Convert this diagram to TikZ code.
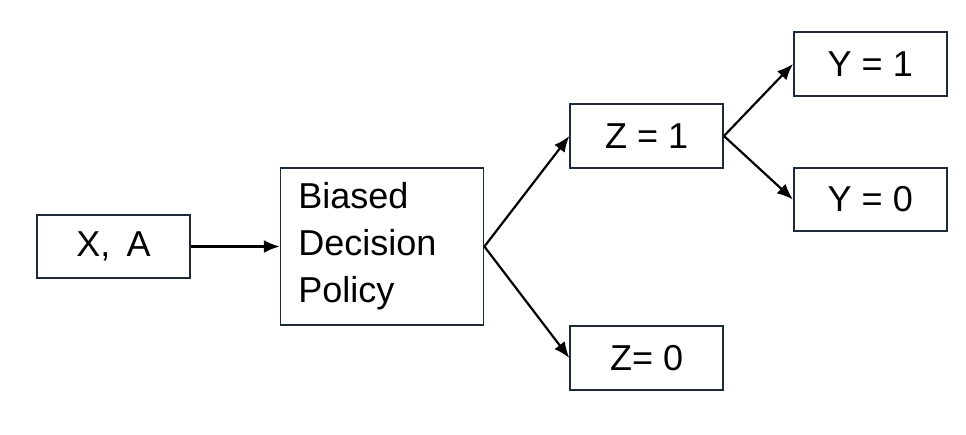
\documentclass[tikz,border=0pt]{standalone}
\usepackage{fontspec}
\setmainfont{Liberation Sans}
\usepackage{tikz}
\usetikzlibrary{positioning, arrows.meta}

\definecolor{boxline}{HTML}{1E2A36}

\begin{document}
\begin{tikzpicture}[
        box/.style={draw=boxline, line width=0.9pt, minimum width=3.06cm, minimum height=1.27cm, inner sep=0pt, font=\fontsize{20.5}{26.7}\selectfont},
        arr/.style={-{Latex[length=3.2mm, width=2.6mm]}, line width=1.25pt}
    ]
        \useasboundingbox (-2.27,-3.75) rectangle (17.05,4.93);

        \node[box](xa){X,\, A};
        \node[box, minimum width=4.06cm, minimum height=3.14cm, text width=3.35cm, align=left](policy)[right = 1.78cm of xa]{Biased\\Decision\\Policy};
        \node[box](z1)[right = 1.7cm of policy, yshift=2.21cm]{Z = 1};
        \node[box](z0)[right = 1.7cm of policy, yshift=-2.23cm]{Z= 0};
        \node[box](y1)[right = 1.38cm of z1, yshift=1.44cm]{Y = 1};
        \node[box](y0)[right = 1.38cm of z1, yshift=-1.27cm]{Y = 0};

        \path
        (xa) edge[arr] node {} (policy)
        (policy.east) edge[arr] node {} (z1.west)
        (policy.east) edge[arr] node {} (z0.west)
        (z1.east) edge[arr] node {} (y1.west)
        (z1.east) edge[arr] node {} (y0.west);
\end{tikzpicture}
\end{document}
